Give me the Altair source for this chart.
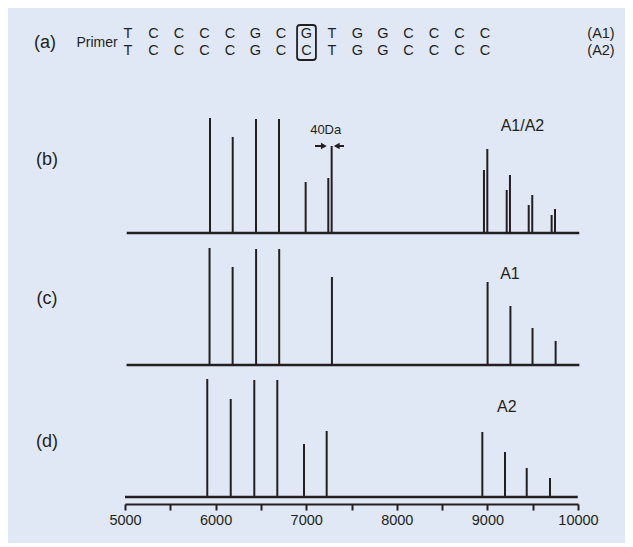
import altair as alt
import pandas as pd

# ---------------- data ----------------
seq_a1 = list("TCCCCGCGTGGCCCC")
seq_a2 = list("TCCCCGCCTGGCCCC")
snp_index = 7
row_tags = ["(A1)", "(A2)"]

# panel (b) A1/A2 mixture
b_mass = [5938, 6189, 6446, 6700, 6994, 7244, 7281, 8962, 8999, 9213, 9249, 9456, 9495, 9709, 9746]
b_int = [115, 96, 114, 114, 51, 55, 87, 63, 84, 43, 58, 28, 38, 18, 24]
# panel (c) A1
c_mass = [5933, 6188, 6447, 6702, 7284, 9002, 9254, 9498, 9753]
c_int = [117, 98, 116, 116, 88, 83, 59, 37, 24]
# panel (d) A2
d_mass = [5908, 6167, 6427, 6681, 6976, 7226, 8944, 9194, 9434, 9691]
d_int = [118, 98, 117, 117, 53, 66, 65, 45, 29, 19]

baseline_start = [5019, 5017, 5000]
baseline_end = [10014, 10015, 9997]
panel_names = ["(b)", "(c)", "(d)"]
series_names = ["A1/A2", "A1", "A2"]
series_label_mass = [9387, 9249, 9214]
series_label_height = [107, 91, 90]

gap_label = "40Da"
gap_label_mass = 7215
gap_label_height = 103
arrow_height = 87
arrow_left = [7097, 7195]
arrow_right = [7337, 7417]

x_ticks = list(range(5000, 10001, 500))

# ---------------- style ----------------
INK = "#231f20"
BG = "#e1e8f5"
FONT = "Liberation Sans"
W = 617

x_scale = alt.Scale(domain=[5000, 10000], range=[117, 570], nice=False, zero=False)
y_scale = alt.Scale(domain=[0, 130], nice=False, zero=True)

# ---------------- header (a) ----------------
hdr = pd.DataFrame({
    "i": list(range(len(seq_a1))) * 2,
    "letter": seq_a1 + seq_a2,
    "row": [0] * len(seq_a1) + [1] * len(seq_a2),
})
hx = alt.Scale(domain=[0, 14], range=[120, 477])
hy = alt.Scale(domain=[0, 1], range=[26, 43])

letters = alt.Chart(hdr).mark_text(fontSize=14.5, font=FONT, color=INK, baseline="middle").encode(
    x=alt.X("i:Q", scale=hx, axis=None),
    y=alt.Y("row:Q", scale=hy, axis=None),
    text="letter:N",
)
tags = alt.Chart(pd.DataFrame({"tag": row_tags, "row": [0, 1]})).mark_text(
    fontSize=14.5, font=FONT, color=INK, baseline="middle"
).encode(
    x=alt.value(593),
    y=alt.Y("row:Q", scale=hy, axis=None),
    text="tag:N",
)
primer = alt.Chart(pd.DataFrame({"t": ["Primer"]})).mark_text(
    fontSize=14, font=FONT, color=INK, baseline="middle"
).encode(x=alt.value(89), y=alt.value(35), text="t:N")
a_lab = alt.Chart(pd.DataFrame({"t": ["(a)"]})).mark_text(
    fontSize=18, font=FONT, color=INK, baseline="middle"
).encode(x=alt.value(37), y=alt.value(35), text="t:N")
box = alt.Chart(pd.DataFrame({"i": [snp_index]})).transform_calculate(
    lo="datum.i - 0.37", hi="datum.i + 0.37"
).mark_rect(fill=BG, fillOpacity=0, stroke=INK, strokeWidth=1.8, cornerRadius=3).encode(
    x=alt.X("lo:Q", scale=hx, axis=None),
    x2="hi:Q",
    y=alt.value(17),
    y2=alt.value(52),
)
header = alt.layer(letters, tags, primer, a_lab, box).properties(width=W, height=95)


# ---------------- spectra panels ----------------
def panel(k, mass, inten, show_axis, extra=None):
    if show_axis:
        xaxis = alt.Axis(
            values=x_ticks, format="d",
            labelExpr="datum.value % 1000 == 0 ? datum.label : ''",
            domain=True, domainColor=INK, domainWidth=2,
            ticks=True, tickColor=INK, tickWidth=2, tickSize=6,
            offset=7, grid=False, labelFont=FONT, labelFontSize=14.5,
            labelColor=INK, labelPadding=3, labelFlush=False, labelOverlap=False,
        )
    else:
        xaxis = None
    df = pd.DataFrame({"mass": mass, "intensity": inten, "zero": [0] * len(mass)})
    peaks = alt.Chart(df).mark_rule(strokeWidth=2, color=INK).encode(
        x=alt.X("mass:Q", scale=x_scale, axis=xaxis, title=None),
        y=alt.Y("intensity:Q", scale=y_scale, axis=None, title=None),
        y2="zero:Q",
    )
    base = alt.Chart(pd.DataFrame({"s": [baseline_start[k]], "e": [baseline_end[k]], "zero": [0]})).mark_rule(
        strokeWidth=2.5, color=INK
    ).encode(
        x=alt.X("s:Q", scale=x_scale, axis=xaxis, title=None),
        x2="e:Q",
        y=alt.Y("zero:Q", scale=y_scale, axis=None, title=None),
    )
    lab = alt.Chart(pd.DataFrame({"t": [series_names[k]], "m": [series_label_mass[k]],
                                  "h": [series_label_height[k]]})).mark_text(
        fontSize=16, font=FONT, color=INK, baseline="middle"
    ).encode(
        x=alt.X("m:Q", scale=x_scale, axis=xaxis, title=None),
        y=alt.Y("h:Q", scale=y_scale, axis=None, title=None),
        text="t:N",
    )
    pl = alt.Chart(pd.DataFrame({"t": [panel_names[k]]})).mark_text(
        fontSize=18, font=FONT, color=INK, baseline="middle"
    ).encode(x=alt.value(39), y=alt.value([57, 64, 75][k]), text="t:N")
    layers = [base, peaks, lab, pl]
    if extra:
        layers += extra(xaxis)
    return alt.layer(*layers).properties(width=W, height=130)


def gap_annotation(xaxis):
    txt = alt.Chart(pd.DataFrame({"t": [gap_label], "m": [gap_label_mass], "h": [gap_label_height]})).mark_text(
        fontSize=13, font=FONT, color=INK, baseline="middle"
    ).encode(
        x=alt.X("m:Q", scale=x_scale, axis=xaxis, title=None),
        y=alt.Y("h:Q", scale=y_scale, axis=None, title=None),
        text="t:N",
    )
    shafts = alt.Chart(pd.DataFrame({
        "a": [arrow_left[0], arrow_right[0]],
        "b": [arrow_left[1], arrow_right[1]],
        "h": [arrow_height, arrow_height],
    })).mark_rule(strokeWidth=2, color=INK).encode(
        x=alt.X("a:Q", scale=x_scale, axis=xaxis, title=None),
        x2="b:Q",
        y=alt.Y("h:Q", scale=y_scale, axis=None, title=None),
    )
    head_r = alt.Chart(pd.DataFrame({"m": [arrow_left[1]], "h": [arrow_height]})).mark_point(
        filled=True, color=INK, size=45, opacity=1, shape="triangle-right"
    ).encode(
        x=alt.X("m:Q", scale=x_scale, axis=xaxis, title=None),
        y=alt.Y("h:Q", scale=y_scale, axis=None, title=None),
    )
    head_l = alt.Chart(pd.DataFrame({"m": [arrow_right[0]], "h": [arrow_height]})).mark_point(
        filled=True, color=INK, size=45, opacity=1, shape="triangle-left"
    ).encode(
        x=alt.X("m:Q", scale=x_scale, axis=xaxis, title=None),
        y=alt.Y("h:Q", scale=y_scale, axis=None, title=None),
    )
    return [shafts, head_r, head_l, txt]


pb = panel(0, b_mass, b_int, False, gap_annotation)
pc = panel(1, c_mass, c_int, False)
pdd = panel(2, d_mass, d_int, True)

chart = alt.vconcat(header, pb, pc, pdd, spacing=0).properties(
    background=BG,
    padding={"left": 0, "right": 0, "top": 0, "bottom": 16},
).configure_view(stroke=None)

chart.save("out.html", embed_options={"renderer": "svg", "actions": False})
